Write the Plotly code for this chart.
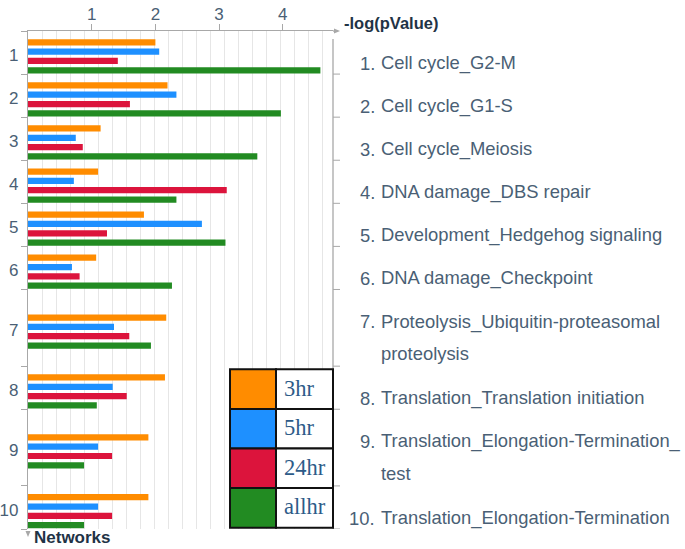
import plotly.graph_objects as go

# ---------------- data ----------------
networks = [str(i) for i in range(1, 11)]
pathway_lines = [
    ["Cell cycle_G2-M"],
    ["Cell cycle_G1-S"],
    ["Cell cycle_Meiosis"],
    ["DNA damage_DBS repair"],
    ["Development_Hedgehog signaling"],
    ["DNA damage_Checkpoint"],
    ["Proteolysis_Ubiquitin-proteasomal", "proteolysis"],
    ["Translation_Translation initiation"],
    ["Translation_Elongation-Termination_", "test"],
    ["Translation_Elongation-Termination"],
]
series_names = ["3hr", "5hr", "24hr", "allhr"]
v_3hr = [2.00, 2.19, 1.14, 1.10, 1.82, 1.07, 2.17, 2.15, 1.89, 1.89]
v_5hr = [2.06, 2.33, 0.75, 0.72, 2.73, 0.69, 1.35, 1.33, 1.10, 1.10]
v_24hr = [1.41, 1.60, 0.86, 3.12, 1.24, 0.81, 1.59, 1.55, 1.32, 1.32]
v_allhr = [4.59, 3.97, 3.60, 2.33, 3.10, 2.26, 1.93, 1.08, 0.88, 0.88]
series_values = [v_3hr, v_5hr, v_24hr, v_allhr]
x_ticks = [1, 2, 3, 4]
x_title = "-log(pValue)"
y_title = "Networks"

# ---------------- style ----------------
colors = ["#ff8c00", "#1e90ff", "#dc143c", "#228b22"]
W, H = 685, 549
L, R, T, B = 28, 333, 31, 529
axis_col = "#a8a8a8"
txt_col = "#4a5f75"
dark_col = "#1f3346"
sans = "Liberation Sans, Arial, sans-serif"
serif = "Liberation Serif, Times New Roman, serif"

X_MAX = 4.788
GRID_STEP = 0.2198
EXTRA_LINE = 0.78      # extra group height per wrapped line
BAR_W = 0.145
BAR_PITCH = 0.2165
BAR_TOP = 0.19
LABEL_OFF = 0.745
LINE_STEP = 0.745

# group layout (in axis units)
heights = [1 + EXTRA_LINE * (len(p) - 1) for p in pathway_lines]
starts = []
acc = 0.0
for h in heights:
    starts.append(acc)
    acc += h
total = acc
seps = starts[1:] + [total]
upx = (B - T) / total  # px per y unit


def px_x(px):
    return (px - L) / (R - L)


def px_y(py):
    return (B - py) / (B - T)


fig = go.Figure()
block_centers = []
for gi, (s, h) in enumerate(zip(starts, heights)):
    first = s + BAR_TOP + (h - 1) / 2 + BAR_W / 2
    block_centers.append(first + 1.5 * BAR_PITCH - 0.03)

for k, (name, vals, col) in enumerate(zip(series_names, series_values, colors)):
    ys = [s + BAR_TOP + (h - 1) / 2 + BAR_W / 2 + k * BAR_PITCH
          for s, h in zip(starts, heights)]
    fig.add_trace(go.Bar(
        x=vals, y=ys, orientation="h", width=BAR_W, name=name,
        marker=dict(color=col, line=dict(width=0)), showlegend=False,
        hoverinfo="x"))

shapes = []
annotations = []

# right border and right ticks
shapes.append(dict(type="line", xref="paper", yref="y", x0=1, x1=1,
                   y0=8 / upx, y1=total, line=dict(color=axis_col, width=1.3)))
for sp in seps:
    shapes.append(dict(type="line", xref="paper", yref="y", x0=1, x1=px_x(340),
                       y0=sp, y1=sp, line=dict(color=axis_col, width=1)))

# top axis arrow
shapes.append(dict(type="line", xref="paper", yref="paper", x0=1, x1=px_x(336),
                   y0=1, y1=1, line=dict(color=axis_col, width=1.3)))
shapes.append(dict(type="path", xref="paper", yref="paper",
                   path="M %f %f L %f %f L %f %f Z" % (
                       px_x(334), px_y(28.5), px_x(340), px_y(31), px_x(334), px_y(33.5)),
                   fillcolor=axis_col, line=dict(width=0)))
# bottom-left down arrow
shapes.append(dict(type="path", xref="paper", yref="paper",
                   path="M %f %f L %f %f L %f %f Z" % (
                       px_x(25.5), px_y(531), px_x(30.5), px_y(531), px_x(28), px_y(537)),
                   fillcolor=axis_col, line=dict(width=0)))

# right-hand pathway labels
for gi, (s, lines) in enumerate(zip(starts, pathway_lines)):
    annotations.append(dict(xref="paper", yref="y", x=px_x(377), y=s + LABEL_OFF,
                            text="%d." % (gi + 1), showarrow=False, xanchor="right",
                            yanchor="middle", font=dict(family=sans, size=18.4, color=txt_col)))
    for li, line in enumerate(lines):
        annotations.append(dict(xref="paper", yref="y", x=px_x(379), y=s + LABEL_OFF + li * LINE_STEP,
                                text=line, showarrow=False, xanchor="left",
                                yanchor="middle", font=dict(family=sans, size=18.4, color=txt_col)))

# axis titles
annotations.append(dict(xref="paper", yref="paper", x=px_x(342), y=px_y(23), text="<b>%s</b>" % x_title,
                        showarrow=False, xanchor="left", yanchor="middle",
                        font=dict(family=sans, size=16.5, color=dark_col)))
annotations.append(dict(xref="paper", yref="paper", x=px_x(32), y=px_y(537), text="<b>%s</b>" % y_title,
                        showarrow=False, xanchor="left", yanchor="middle",
                        font=dict(family=sans, size=17, color=dark_col)))

# legend table
lx0, lx1, lx2 = 230, 276, 333
ly0, ly1 = 369.3, 527.7
rh = (ly1 - ly0) / len(series_names)
for k, (name, col) in enumerate(zip(series_names, colors)):
    y0 = ly0 + k * rh
    y1 = y0 + rh
    shapes.append(dict(type="rect", xref="paper", yref="paper",
                       x0=px_x(lx0), x1=px_x(lx1), y0=px_y(y1), y1=px_y(y0),
                       fillcolor=col, line=dict(color="#111111", width=2)))
    shapes.append(dict(type="rect", xref="paper", yref="paper",
                       x0=px_x(lx1), x1=px_x(lx2), y0=px_y(y1), y1=px_y(y0),
                       fillcolor="white", line=dict(color="#111111", width=2)))
    annotations.append(dict(xref="paper", yref="paper", x=px_x(282), y=px_y((y0 + y1) / 2 - 1),
                            text=name, showarrow=False, xanchor="left", yanchor="middle",
                            font=dict(family=serif, size=22.5, color="#2d5b88")))

fig.update_layout(
    width=W, height=H,
    margin=dict(l=L, r=W - R, t=T, b=H - B, pad=0, autoexpand=False),
    paper_bgcolor="white", plot_bgcolor="white",
    barmode="overlay",
    shapes=shapes, annotations=annotations,
    xaxis=dict(side="top", range=[0, X_MAX], tickmode="array", tickvals=x_ticks,
               ticks="outside", ticklen=6, tickcolor=axis_col, tickwidth=1.3,
               ticklabelstandoff=-3,
               showline=True, linecolor=axis_col, linewidth=1.3,
               showgrid=False, zeroline=False, automargin=False,
               tickfont=dict(family=sans, size=17, color=txt_col),
               minor=dict(tick0=0, dtick=GRID_STEP, showgrid=True, gridcolor="#e6e6e6",
                          gridwidth=1, ticks=""),
               fixedrange=True),
    yaxis=dict(range=[total, 0], tickmode="array", tickvals=block_centers, ticktext=networks,
               ticks="outside", ticklen=7, tickcolor="rgba(0,0,0,0)",
               ticklabelstandoff=-2,
               showline=True, linecolor=axis_col, linewidth=1.3,
               showgrid=False, zeroline=False, automargin=False,
               tickfont=dict(family=sans, size=17, color=txt_col),
               minor=dict(tickmode="array", tickvals=[0] + seps, ticks="outside",
                          ticklen=6, tickcolor=axis_col, tickwidth=1, showgrid=False),
               fixedrange=True),
)

fig.write_html("out.html", config={"displayModeBar": False},
               post_script="document.body.style.margin='0';")
